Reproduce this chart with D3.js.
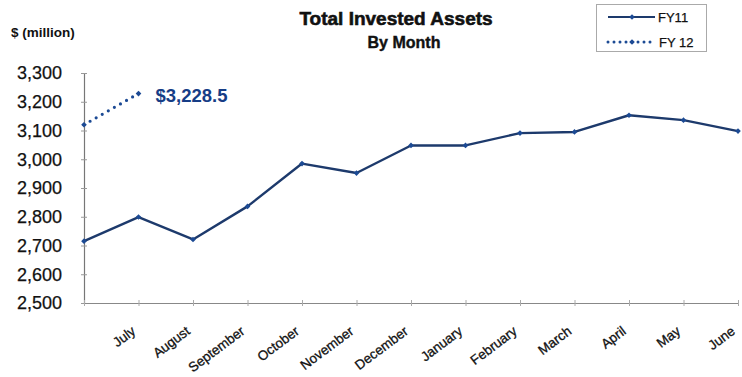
<!DOCTYPE html>
<html>
<head>
<meta charset="utf-8">
<script src="https://cdn.jsdelivr.net/npm/d3@7/dist/d3.min.js"></script>
<style>
  html, body { margin: 0; padding: 0; background: #fff; }
  svg { display: block; font-family: "Liberation Sans", Arial, sans-serif; }
</style>
</head>
<body>
<svg id="chart" width="742" height="377"></svg>
<script>
// Month slots: the first slot is the prior-year close (unlabelled)
const months = ["", "July", "August", "September", "October", "November", "December",
                "January", "February", "March", "April", "May", "June"];
const fy11 = [2715, 2799, 2721, 2836, 2985, 2952, 3048, 3048, 3091, 3095, 3153, 3136, 3098];
const fy12 = [3120, 3228.5];
const yTicks = [2500, 2600, 2700, 2800, 2900, 3000, 3100, 3200, 3300];
const fy12Label = "$3,228.5";

const svg = d3.select("#chart");
const plotLeft = 84, plotRight = 738, plotTop = 73, plotBottom = 303;

const x = d3.scalePoint().domain(d3.range(months.length)).range([plotLeft, plotRight]);
const y = d3.scaleLinear().domain([2500, 3300]).range([plotBottom, plotTop]);

const navy = "#1d3a6c";
const blue = "#1c4a94";
const ink = "#111";

// Titles
svg.append("text").attr("x", 396).attr("y", 25).attr("text-anchor", "middle")
  .attr("font-size", 19).attr("font-weight", "bold").attr("fill", ink)
  .attr("stroke", ink).attr("stroke-width", 0.6)
  .text("Total Invested Assets");
svg.append("text").attr("x", 404).attr("y", 48).attr("text-anchor", "middle")
  .attr("font-size", 16).attr("font-weight", "bold").attr("fill", ink)
  .attr("stroke", ink).attr("stroke-width", 0.4)
  .text("By Month");
svg.append("text").attr("x", 11).attr("y", 37)
  .attr("font-size", 13.5).attr("font-weight", "bold").attr("fill", ink)
  .text("$ (million)");

// Y axis
const yAxis = svg.append("g").attr("transform", `translate(${plotLeft},0)`)
  .call(d3.axisLeft(y).tickValues(yTicks).tickSizeInner(4).tickSizeOuter(0)
        .tickFormat(d3.format(",")));
yAxis.select(".domain").attr("stroke", "#777").attr("stroke-width", 1.2);
yAxis.selectAll(".tick line").attr("stroke", "#999").attr("x2", 3).attr("x1", -3);
yAxis.selectAll(".tick text").attr("font-size", 18).attr("fill", ink)
  .attr("stroke", ink).attr("stroke-width", 0.25)
  .attr("font-family", "Liberation Sans, Arial, sans-serif").attr("x", -22);

// X axis
const xAxis = svg.append("g").attr("transform", `translate(0,${plotBottom})`)
  .call(d3.axisBottom(x).tickSizeInner(3).tickSizeOuter(0).tickFormat(""));
xAxis.select(".domain").attr("stroke", "#888").attr("stroke-width", 1);
xAxis.selectAll(".tick line").attr("stroke", "#aaa").attr("y1", -3).attr("y2", 3);

// Rotated month labels
svg.append("g").selectAll("text")
  .data(months.map((m, i) => ({ m, i })).filter(d => d.m))
  .join("text")
  .attr("transform", d => `translate(${x(d.i) - 2},${plotBottom + 30}) rotate(-37)`)
  .attr("text-anchor", "end")
  .attr("font-size", 13.5).attr("fill", ink)
  .attr("stroke", ink).attr("stroke-width", 0.3)
  .text(d => d.m);

// FY11 line
const line = d3.line().x((d, i) => x(i)).y(d => y(d));
svg.append("path").datum(fy11).attr("d", line)
  .attr("fill", "none").attr("stroke", navy).attr("stroke-width", 2.4)
  .attr("stroke-linejoin", "round");
const diamond = d3.symbol().type(d3.symbolSquare).size(16);
svg.append("g").selectAll("path").data(fy11).join("path")
  .attr("transform", (d, i) => `translate(${x(i)},${y(d)}) rotate(45)`)
  .attr("d", diamond).attr("fill", blue);

// FY12 dotted line
svg.append("path").datum(fy12).attr("d", line)
  .attr("fill", "none").attr("stroke", blue).attr("stroke-width", 3.2)
  .attr("stroke-dasharray", "0 7").attr("stroke-linecap", "round");
svg.append("g").selectAll("path").data(fy12).join("path")
  .attr("transform", (d, i) => `translate(${x(i)},${y(d)}) rotate(45)`)
  .attr("d", diamond).attr("fill", blue);

svg.append("text").attr("x", x(1) + 17).attr("y", y(fy12[1]) + 8)
  .attr("font-size", 18.5).attr("font-weight", "bold").attr("fill", "#163d86")
  .text(fy12Label);

// Legend
const lg = svg.append("g");
lg.append("rect").attr("x", 596.5).attr("y", 4.5).attr("width", 110).attr("height", 47)
  .attr("fill", "#fff").attr("stroke", "#aaa");
lg.append("line").attr("x1", 608).attr("x2", 655).attr("y1", 17).attr("y2", 17)
  .attr("stroke", navy).attr("stroke-width", 2.2);
lg.append("path").attr("transform", "translate(632,17) rotate(45)").attr("d", diamond).attr("fill", blue);
lg.append("text").attr("x", 658).attr("y", 21.5).attr("font-size", 13).attr("fill", ink)
  .attr("stroke", ink).attr("stroke-width", 0.25).text("FY11");
lg.append("line").attr("x1", 608).attr("x2", 655).attr("y1", 42).attr("y2", 42)
  .attr("stroke", blue).attr("stroke-width", 3).attr("stroke-dasharray", "0 6")
  .attr("stroke-linecap", "round");
lg.append("path").attr("transform", "translate(632,42) rotate(45)").attr("d", diamond).attr("fill", blue);
lg.append("text").attr("x", 659).attr("y", 47).attr("font-size", 13).attr("fill", ink)
  .attr("stroke", ink).attr("stroke-width", 0.25).text("FY 12");
</script>
</body>
</html>
